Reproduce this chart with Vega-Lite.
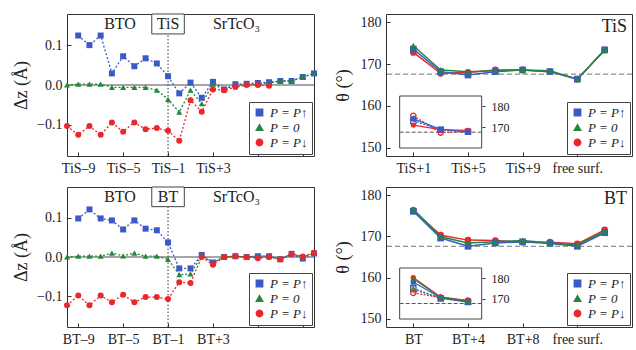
{
  "$schema": "https://vega.github.io/schema/vega-lite/v6.json",
  "background": "white",
  "padding": {"left": 12, "top": 13, "right": 0, "bottom": 0},
  "columns": 2,
  "bounds": "flush",
  "spacing": {"row": 31, "column": 72},
  "resolve": {"scale": {"color": "independent", "shape": "independent"}, "legend": {"color": "independent", "shape": "independent"}},
  "config": {
    "font": "Liberation Serif",
    "view": {"stroke": "#333", "strokeWidth": 1},
    "axis": {"grid": false, "domain": false, "tickColor": "#333", "tickSize": -4, "labelFont": "Liberation Serif", "labelFontSize": 14, "labelColor": "#222", "titleFont": "Liberation Serif", "titleFontSize": 18, "titleFontWeight": "normal", "titleColor": "#222", "labelPadding": 9, "labelOverlap": false},
    "legend": {"orient": "bottom-right", "offset": 2, "labelFont": "Liberation Serif", "labelFontSize": 13, "labelFontStyle": "italic", "labelColor": "#222", "symbolSize": 40, "strokeColor": "#444", "fillColor": "white", "padding": 4, "rowPadding": 1, "labelOffset": 4, "cornerRadius": 0},
    "text": {"font": "Liberation Serif"}
  },
  "datasets": {
    "one": [{}],
    "dzTiS": [
      {"x": -9, "P": "P = P↑", "v": 0.124}, {"x": -8, "P": "P = P↑", "v": 0.100}, {"x": -7, "P": "P = P↑", "v": 0.124}, {"x": -6, "P": "P = P↑", "v": 0.029}, {"x": -5, "P": "P = P↑", "v": 0.072}, {"x": -4, "P": "P = P↑", "v": 0.047}, {"x": -3, "P": "P = P↑", "v": 0.067}, {"x": -2, "P": "P = P↑", "v": 0.054}, {"x": -1, "P": "P = P↑", "v": 0.022}, {"x": 0, "P": "P = P↑", "v": -0.021}, {"x": 1, "P": "P = P↑", "v": 0.006}, {"x": 2, "P": "P = P↑", "v": -0.032}, {"x": 3, "P": "P = P↑", "v": 0.008}, {"x": 4, "P": "P = P↑", "v": -0.011}, {"x": 5, "P": "P = P↑", "v": 0.002}, {"x": 6, "P": "P = P↑", "v": 0.003}, {"x": 7, "P": "P = P↑", "v": 0.005}, {"x": 8, "P": "P = P↑", "v": 0.007}, {"x": 9, "P": "P = P↑", "v": 0.010}, {"x": 10, "P": "P = P↑", "v": 0.010}, {"x": 11, "P": "P = P↑", "v": 0.020}, {"x": 12, "P": "P = P↑", "v": 0.029},
      {"x": -10, "P": "P = 0", "v": 0}, {"x": -9, "P": "P = 0", "v": 0.002}, {"x": -8, "P": "P = 0", "v": 0.002}, {"x": -7, "P": "P = 0", "v": 0.002}, {"x": -6, "P": "P = 0", "v": -0.006}, {"x": -5, "P": "P = 0", "v": -0.006}, {"x": -4, "P": "P = 0", "v": -0.006}, {"x": -3, "P": "P = 0", "v": -0.006}, {"x": -2, "P": "P = 0", "v": -0.013}, {"x": -1, "P": "P = 0", "v": -0.036}, {"x": 0, "P": "P = 0", "v": -0.068}, {"x": 1, "P": "P = 0", "v": -0.013}, {"x": 2, "P": "P = 0", "v": -0.047}, {"x": 3, "P": "P = 0", "v": 0.002}, {"x": 4, "P": "P = 0", "v": -0.011}, {"x": 5, "P": "P = 0", "v": 0}, {"x": 6, "P": "P = 0", "v": 0.002}, {"x": 7, "P": "P = 0", "v": 0.003}, {"x": 8, "P": "P = 0", "v": 0.005}, {"x": 9, "P": "P = 0", "v": 0.010}, {"x": 10, "P": "P = 0", "v": 0.010}, {"x": 11, "P": "P = 0", "v": 0.020}, {"x": 12, "P": "P = 0", "v": 0.029},
      {"x": -10, "P": "P = P↓", "v": -0.103}, {"x": -9, "P": "P = P↓", "v": -0.125}, {"x": -8, "P": "P = P↓", "v": -0.103}, {"x": -7, "P": "P = P↓", "v": -0.125}, {"x": -6, "P": "P = P↓", "v": -0.094}, {"x": -5, "P": "P = P↓", "v": -0.117}, {"x": -4, "P": "P = P↓", "v": -0.094}, {"x": -3, "P": "P = P↓", "v": -0.111}, {"x": -2, "P": "P = P↓", "v": -0.108}, {"x": -1, "P": "P = P↓", "v": -0.115}, {"x": 0, "P": "P = P↓", "v": -0.140}, {"x": 1, "P": "P = P↓", "v": -0.038}, {"x": 2, "P": "P = P↓", "v": -0.067}, {"x": 3, "P": "P = P↓", "v": -0.011}, {"x": 4, "P": "P = P↓", "v": -0.013}, {"x": 5, "P": "P = P↓", "v": -0.005}, {"x": 6, "P": "P = P↓", "v": 0}, {"x": 7, "P": "P = P↓", "v": 0}, {"x": 8, "P": "P = P↓", "v": -0.002}
    ],
    "dzBT": [
      {"x": -9, "P": "P = P↑", "v": 0.098}, {"x": -8, "P": "P = P↑", "v": 0.121}, {"x": -7, "P": "P = P↑", "v": 0.098}, {"x": -6, "P": "P = P↑", "v": 0.093}, {"x": -5, "P": "P = P↑", "v": 0.070}, {"x": -4, "P": "P = P↑", "v": 0.093}, {"x": -3, "P": "P = P↑", "v": 0.072}, {"x": -2, "P": "P = P↑", "v": 0.068}, {"x": -1, "P": "P = P↑", "v": 0.037}, {"x": 0, "P": "P = P↑", "v": -0.029}, {"x": 1, "P": "P = P↑", "v": -0.029}, {"x": 2, "P": "P = P↑", "v": 0.005}, {"x": 3, "P": "P = P↑", "v": -0.014}, {"x": 4, "P": "P = P↑", "v": 0}, {"x": 5, "P": "P = P↑", "v": 0.002}, {"x": 6, "P": "P = P↑", "v": 0}, {"x": 7, "P": "P = P↑", "v": 0.002}, {"x": 8, "P": "P = P↑", "v": 0.002}, {"x": 9, "P": "P = P↑", "v": -0.006}, {"x": 10, "P": "P = P↑", "v": 0.008}, {"x": 11, "P": "P = P↑", "v": -0.004}, {"x": 12, "P": "P = P↑", "v": 0.009},
      {"x": -10, "P": "P = 0", "v": 0}, {"x": -9, "P": "P = 0", "v": 0.002}, {"x": -8, "P": "P = 0", "v": 0.002}, {"x": -7, "P": "P = 0", "v": 0.002}, {"x": -6, "P": "P = 0", "v": 0.010}, {"x": -5, "P": "P = 0", "v": 0.003}, {"x": -4, "P": "P = 0", "v": 0.010}, {"x": -3, "P": "P = 0", "v": 0.002}, {"x": -2, "P": "P = 0", "v": 0.002}, {"x": -1, "P": "P = 0", "v": -0.006}, {"x": 0, "P": "P = 0", "v": -0.045}, {"x": 1, "P": "P = 0", "v": -0.043}, {"x": 2, "P": "P = 0", "v": 0.003}, {"x": 3, "P": "P = 0", "v": -0.014}, {"x": 4, "P": "P = 0", "v": 0}, {"x": 5, "P": "P = 0", "v": 0.002}, {"x": 6, "P": "P = 0", "v": 0}, {"x": 7, "P": "P = 0", "v": 0.002}, {"x": 8, "P": "P = 0", "v": 0.002}, {"x": 9, "P": "P = 0", "v": -0.006}, {"x": 10, "P": "P = 0", "v": 0.008}, {"x": 11, "P": "P = 0", "v": 0.001}, {"x": 12, "P": "P = 0", "v": 0.009},
      {"x": -10, "P": "P = P↓", "v": -0.123}, {"x": -9, "P": "P = P↓", "v": -0.098}, {"x": -8, "P": "P = P↓", "v": -0.123}, {"x": -7, "P": "P = P↓", "v": -0.098}, {"x": -6, "P": "P = P↓", "v": -0.115}, {"x": -5, "P": "P = P↓", "v": -0.096}, {"x": -4, "P": "P = P↓", "v": -0.115}, {"x": -3, "P": "P = P↓", "v": -0.102}, {"x": -2, "P": "P = P↓", "v": -0.102}, {"x": -1, "P": "P = P↓", "v": -0.107}, {"x": 0, "P": "P = P↓", "v": -0.064}, {"x": 1, "P": "P = P↓", "v": -0.066}, {"x": 2, "P": "P = P↓", "v": 0}, {"x": 3, "P": "P = P↓", "v": -0.020}, {"x": 4, "P": "P = P↓", "v": 0}, {"x": 5, "P": "P = P↓", "v": 0.002}, {"x": 6, "P": "P = P↓", "v": 0}, {"x": 7, "P": "P = P↓", "v": -0.003}, {"x": 8, "P": "P = P↓", "v": 0}, {"x": 9, "P": "P = P↓", "v": -0.006}, {"x": 10, "P": "P = P↓", "v": 0.007}, {"x": 11, "P": "P = P↓", "v": 0.001}, {"x": 12, "P": "P = P↓", "v": 0.011}
    ],
    "thTiS": [
      {"x": 0, "P": "P = P↓", "v": 172.8}, {"x": 1, "P": "P = P↓", "v": 167.8}, {"x": 2, "P": "P = P↓", "v": 168.0}, {"x": 3, "P": "P = P↓", "v": 168.6}, {"x": 4, "P": "P = P↓", "v": 168.6}, {"x": 5, "P": "P = P↓", "v": 168.2}, {"x": 6, "P": "P = P↓", "v": 166.4}, {"x": 7, "P": "P = P↓", "v": 173.4},
      {"x": 0, "P": "P = P↑", "v": 173.6}, {"x": 1, "P": "P = P↑", "v": 168.2}, {"x": 2, "P": "P = P↑", "v": 167.4}, {"x": 3, "P": "P = P↑", "v": 168.2}, {"x": 4, "P": "P = P↑", "v": 168.6}, {"x": 5, "P": "P = P↑", "v": 168.2}, {"x": 6, "P": "P = P↑", "v": 166.4}, {"x": 7, "P": "P = P↑", "v": 173.4},
      {"x": 0, "P": "P = 0", "v": 174.4}, {"x": 1, "P": "P = 0", "v": 168.6}, {"x": 2, "P": "P = 0", "v": 168.2}, {"x": 3, "P": "P = 0", "v": 168.4}, {"x": 4, "P": "P = 0", "v": 168.6}, {"x": 5, "P": "P = 0", "v": 168.4}, {"x": 6, "P": "P = 0", "v": 166.4}, {"x": 7, "P": "P = 0", "v": 173.4}
    ],
    "thBT": [
      {"x": 0, "P": "P = P↓", "v": 176.3}, {"x": 1, "P": "P = P↓", "v": 170.3}, {"x": 2, "P": "P = P↓", "v": 169.1}, {"x": 3, "P": "P = P↓", "v": 169.0}, {"x": 4, "P": "P = P↓", "v": 168.6}, {"x": 5, "P": "P = P↓", "v": 168.6}, {"x": 6, "P": "P = P↓", "v": 168.2}, {"x": 7, "P": "P = P↓", "v": 171.6},
      {"x": 0, "P": "P = P↑", "v": 176.1}, {"x": 1, "P": "P = P↑", "v": 169.6}, {"x": 2, "P": "P = P↑", "v": 167.6}, {"x": 3, "P": "P = P↑", "v": 168.4}, {"x": 4, "P": "P = P↑", "v": 168.7}, {"x": 5, "P": "P = P↑", "v": 168.3}, {"x": 6, "P": "P = P↑", "v": 167.6}, {"x": 7, "P": "P = P↑", "v": 170.9},
      {"x": 0, "P": "P = 0", "v": 176.6}, {"x": 1, "P": "P = 0", "v": 169.9}, {"x": 2, "P": "P = 0", "v": 168.4}, {"x": 3, "P": "P = 0", "v": 168.7}, {"x": 4, "P": "P = 0", "v": 169.0}, {"x": 5, "P": "P = 0", "v": 168.4}, {"x": 6, "P": "P = 0", "v": 168.0}, {"x": 7, "P": "P = 0", "v": 171.2}
    ],
    "insTiS": [
      {"x": 0, "P": "P = P↓", "v": 171.0, "k": "a"}, {"x": 1, "P": "P = P↓", "v": 168.8, "k": "a"}, {"x": 2, "P": "P = P↓", "v": 168.5, "k": "a"},
      {"x": 0, "P": "P = P↑", "v": 174.0, "k": "a"}, {"x": 1, "P": "P = P↑", "v": 169.0, "k": "a"}, {"x": 2, "P": "P = P↑", "v": 167.6, "k": "a"},
      {"x": 0, "P": "P = P↑", "v": 173.0, "k": "b"}, {"x": 1, "P": "P = P↑", "v": 168.8, "k": "b"}, {"x": 2, "P": "P = P↑", "v": 167.8, "k": "b"},
      {"x": 0, "P": "P = P↓", "v": 175.5, "k": "b"}, {"x": 1, "P": "P = P↓", "v": 167.4, "k": "b"}, {"x": 2, "P": "P = P↓", "v": 168.0, "k": "b"}
    ],
    "insBT": [
      {"x": 0, "P": "P = P↓", "v": 180.3, "k": "a"}, {"x": 1, "P": "P = P↓", "v": 170.8, "k": "a"}, {"x": 2, "P": "P = P↓", "v": 169.0, "k": "a"},
      {"x": 0, "P": "P = P↑", "v": 178.1, "k": "a"}, {"x": 1, "P": "P = P↑", "v": 170.3, "k": "a"}, {"x": 2, "P": "P = P↑", "v": 168.2, "k": "a"},
      {"x": 0, "P": "P = 0", "v": 179.7, "k": "a"}, {"x": 1, "P": "P = 0", "v": 170.6, "k": "a"}, {"x": 2, "P": "P = 0", "v": 168.8, "k": "a"},
      {"x": 0, "P": "P = P↑", "v": 175.0, "k": "b"}, {"x": 1, "P": "P = P↑", "v": 170.2, "k": "b"}, {"x": 2, "P": "P = P↑", "v": 168.4, "k": "b"},
      {"x": 0, "P": "P = 0", "v": 174.6, "k": "b"}, {"x": 1, "P": "P = 0", "v": 170.0, "k": "b"}, {"x": 2, "P": "P = 0", "v": 168.6, "k": "b"},
      {"x": 0, "P": "P = P↓", "v": 172.8, "k": "b"}, {"x": 1, "P": "P = P↓", "v": 170.5, "k": "b"}, {"x": 2, "P": "P = P↓", "v": 169.0, "k": "b"}
    ]
  },
  "concat": [
    {
      "width": 247, "height": 142,
      "layer": [
        {"data": {"name": "one"}, "mark": {"type": "rule", "color": "#888", "strokeWidth": 1.5}, "encoding": {"y": {"datum": 0, "type": "quantitative"}}},
        {"data": {"name": "one"}, "mark": {"type": "rule", "color": "#333", "strokeWidth": 1, "strokeDash": [1.5, 2]}, "encoding": {"x": {"datum": -1, "type": "quantitative"}, "y": {"datum": -0.178, "type": "quantitative"}, "y2": {"datum": 0.128}}},
        {"data": {"name": "dzTiS"}, "mark": {"type": "line", "strokeWidth": 1.3, "strokeDash": [2, 2]},
          "encoding": {
            "x": {"field": "x", "type": "quantitative", "scale": {"domain": [-10, 12], "nice": false, "zero": false}, "axis": {"title": null, "labelPadding": 9, "values": [-9, -7, -5, -3, -1, 1, 3, 5, 7, 9, 11], "labelExpr": "datum.value == -9 ? 'TiS–9' : datum.value == -5 ? 'TiS–5' : datum.value == -1 ? 'TiS–1' : datum.value == 3 ? 'TiS+3' : ''"}},
            "y": {"field": "v", "type": "quantitative", "scale": {"domain": [-0.178, 0.178], "nice": false, "zero": false}, "axis": {"title": "Δz (Å)", "values": [-0.1, 0, 0.1], "format": ".1f", "titlePadding": 6}},
            "color": {"field": "P", "type": "nominal", "scale": {"domain": ["P = P↑", "P = 0", "P = P↓"], "range": ["#3a5bc7", "#23883b", "#e8282b"]}},
            "detail": {"field": "P"}
          }},
        {"data": {"name": "dzTiS"}, "mark": {"type": "point", "filled": true, "size": 36, "opacity": 1},
          "encoding": {
            "x": {"field": "x", "type": "quantitative"},
            "y": {"field": "v", "type": "quantitative"},
            "color": {"field": "P", "type": "nominal", "scale": {"domain": ["P = P↑", "P = 0", "P = P↓"], "range": ["#3a5bc7", "#23883b", "#e8282b"]}, "legend": {"title": null}},
            "shape": {"field": "P", "type": "nominal", "scale": {"domain": ["P = P↑", "P = 0", "P = P↓"], "range": ["square", "triangle-up", "circle"]}, "legend": {"title": null}}
          }},
        {"data": {"values": [{"bx": -2.45, "bx2": 0.45, "by": 0.178, "by2": 0.128}]}, "mark": {"type": "rect", "fill": "white", "stroke": "#444", "strokeWidth": 1},
          "encoding": {"x": {"field": "bx", "type": "quantitative"}, "x2": {"field": "bx2"}, "y": {"field": "by", "type": "quantitative"}, "y2": {"field": "by2"}}},
        {"data": {"values": [{"tx": -5.28, "ty": 0.152, "t": "BTO"}, {"tx": 5.1, "ty": 0.152, "t": "SrTcO₃"}, {"tx": -1, "ty": 0.152, "t": "TiS"}]}, "mark": {"type": "text", "fontSize": 16, "color": "#222", "baseline": "middle", "align": "center"},
          "encoding": {"x": {"field": "tx", "type": "quantitative"}, "y": {"field": "ty", "type": "quantitative"}, "text": {"field": "t"}}}
      ]
    },
    {
      "width": 246, "height": 142,
      "resolve": {"scale": {"y": "independent"}, "axis": {"y": "independent"}},
      "layer": [
        {"layer": [
          {"data": {"name": "one"}, "mark": {"type": "rule", "color": "#777", "strokeWidth": 1, "strokeDash": [5, 3]}, "encoding": {"y": {"datum": 167.6, "type": "quantitative"}}},
          {"data": {"name": "thTiS"}, "mark": {"type": "line", "strokeWidth": 1.5},
            "encoding": {
              "x": {"field": "x", "type": "quantitative", "scale": {"domain": [-1, 8], "nice": false, "zero": false}, "axis": {"title": null, "labelPadding": 9, "values": [0, 1, 2, 3, 4, 5, 6, 7], "labelExpr": "datum.value == 0 ? 'TiS+1' : datum.value == 2 ? 'TiS+5' : datum.value == 4 ? 'TiS+9' : datum.value == 6 ? 'free surf.' : ''"}},
              "y": {"field": "v", "type": "quantitative", "scale": {"domain": [148, 182], "nice": false, "zero": false}, "axis": {"title": "θ (°)", "orient": "left", "values": [150, 155, 160, 165, 170, 175, 180], "labelExpr": "datum.value % 10 == 0 ? datum.label : ''", "titlePadding": 8}},
              "color": {"field": "P", "type": "nominal", "scale": {"domain": ["P = P↑", "P = 0", "P = P↓"], "range": ["#3a5bc7", "#23883b", "#e8282b"]}},
              "detail": {"field": "P"}
            }},
          {"data": {"name": "thTiS"}, "mark": {"type": "point", "filled": true, "size": 45, "opacity": 1},
            "encoding": {
              "x": {"field": "x", "type": "quantitative"},
              "y": {"field": "v", "type": "quantitative"},
              "color": {"field": "P", "type": "nominal", "scale": {"domain": ["P = P↑", "P = 0", "P = P↓"], "range": ["#3a5bc7", "#23883b", "#e8282b"]}, "legend": {"title": null}},
              "shape": {"field": "P", "type": "nominal", "scale": {"domain": ["P = P↑", "P = 0", "P = P↓"], "range": ["square", "triangle-up", "circle"]}, "legend": {"title": null}}
            }},
          {"data": {"values": [{"tx": 7.82, "ty": 179.0, "t": "TiS"}]}, "mark": {"type": "text", "fontSize": 18, "color": "#222", "baseline": "middle", "align": "right"},
            "encoding": {"x": {"field": "tx", "type": "quantitative"}, "y": {"field": "ty", "type": "quantitative"}, "text": {"field": "t"}}}
        ]},
        {"layer": [
          {"data": {"values": [{"bx": -0.5, "bx2": 2.5, "by": 160, "by2": 185}]}, "mark": {"type": "rect", "fill": "white", "stroke": "#444", "strokeWidth": 1},
            "encoding": {"x": {"field": "bx", "type": "quantitative"}, "x2": {"field": "bx2"},
              "y": {"field": "by", "type": "quantitative", "scale": {"domain": [160, 185], "range": [134, 82], "nice": false, "zero": false}, "axis": {"title": null, "orient": "right", "offset": -150, "values": [170, 180], "labelFontSize": 12, "labelPadding": 6, "tickSize": 3}},
              "y2": {"field": "by2"}}},
          {"data": {"name": "one"}, "mark": {"type": "rule", "color": "#555", "strokeWidth": 1, "strokeDash": [4, 2]}, "encoding": {"x": {"datum": -0.5, "type": "quantitative"}, "x2": {"datum": 2.5}, "y": {"datum": 167.6, "type": "quantitative"}}},
          {"data": {"name": "insTiS"}, "transform": [{"filter": "datum.k == 'b'"}], "mark": {"type": "line", "strokeWidth": 1.2, "strokeDash": [2, 1.5]},
            "encoding": {"x": {"field": "x", "type": "quantitative"}, "y": {"field": "v", "type": "quantitative"}, "color": {"field": "P", "type": "nominal"}, "detail": {"field": "P"}}},
          {"data": {"name": "insTiS"}, "transform": [{"filter": "datum.k == 'a'"}], "mark": {"type": "line", "strokeWidth": 1.2},
            "encoding": {"x": {"field": "x", "type": "quantitative"}, "y": {"field": "v", "type": "quantitative"}, "color": {"field": "P", "type": "nominal"}, "detail": {"field": "P"}}},
          {"data": {"name": "insTiS"}, "transform": [{"filter": "datum.k == 'b'"}], "mark": {"type": "point", "filled": false, "size": 28, "strokeWidth": 1.3, "opacity": 1},
            "encoding": {"x": {"field": "x", "type": "quantitative"}, "y": {"field": "v", "type": "quantitative"}, "color": {"field": "P", "type": "nominal"}, "shape": {"field": "P", "type": "nominal"}}},
          {"data": {"name": "insTiS"}, "transform": [{"filter": "datum.k == 'a'"}], "mark": {"type": "point", "filled": true, "size": 28, "opacity": 1},
            "encoding": {"x": {"field": "x", "type": "quantitative"}, "y": {"field": "v", "type": "quantitative"}, "color": {"field": "P", "type": "nominal"}, "shape": {"field": "P", "type": "nominal"}}}
        ]}
      ]
    },
    {
      "width": 247, "height": 140,
      "layer": [
        {"data": {"name": "one"}, "mark": {"type": "rule", "color": "#888", "strokeWidth": 1.5}, "encoding": {"y": {"datum": 0, "type": "quantitative"}}},
        {"data": {"name": "one"}, "mark": {"type": "rule", "color": "#333", "strokeWidth": 1, "strokeDash": [1.5, 2]}, "encoding": {"x": {"datum": -1, "type": "quantitative"}, "y": {"datum": -0.178, "type": "quantitative"}, "y2": {"datum": 0.128}}},
        {"data": {"name": "dzBT"}, "mark": {"type": "line", "strokeWidth": 1.3, "strokeDash": [2, 2]},
          "encoding": {
            "x": {"field": "x", "type": "quantitative", "scale": {"domain": [-10, 12], "nice": false, "zero": false}, "axis": {"title": null, "labelPadding": 9, "values": [-9, -7, -5, -3, -1, 1, 3, 5, 7, 9, 11], "labelExpr": "datum.value == -9 ? 'BT–9' : datum.value == -5 ? 'BT–5' : datum.value == -1 ? 'BT–1' : datum.value == 3 ? 'BT+3' : ''"}},
            "y": {"field": "v", "type": "quantitative", "scale": {"domain": [-0.178, 0.178], "nice": false, "zero": false}, "axis": {"title": "Δz (Å)", "values": [-0.1, 0, 0.1], "format": ".1f", "titlePadding": 6}},
            "color": {"field": "P", "type": "nominal", "scale": {"domain": ["P = P↑", "P = 0", "P = P↓"], "range": ["#3a5bc7", "#23883b", "#e8282b"]}},
            "detail": {"field": "P"}
          }},
        {"data": {"name": "dzBT"}, "mark": {"type": "point", "filled": true, "size": 36, "opacity": 1},
          "encoding": {
            "x": {"field": "x", "type": "quantitative"},
            "y": {"field": "v", "type": "quantitative"},
            "color": {"field": "P", "type": "nominal", "scale": {"domain": ["P = P↑", "P = 0", "P = P↓"], "range": ["#3a5bc7", "#23883b", "#e8282b"]}, "legend": {"title": null}},
            "shape": {"field": "P", "type": "nominal", "scale": {"domain": ["P = P↑", "P = 0", "P = P↓"], "range": ["square", "triangle-up", "circle"]}, "legend": {"title": null}}
          }},
        {"data": {"values": [{"bx": -2.45, "bx2": 0.45, "by": 0.178, "by2": 0.128}]}, "mark": {"type": "rect", "fill": "white", "stroke": "#444", "strokeWidth": 1},
          "encoding": {"x": {"field": "bx", "type": "quantitative"}, "x2": {"field": "bx2"}, "y": {"field": "by", "type": "quantitative"}, "y2": {"field": "by2"}}},
        {"data": {"values": [{"tx": -5.28, "ty": 0.152, "t": "BTO"}, {"tx": 5.1, "ty": 0.152, "t": "SrTcO₃"}, {"tx": -1, "ty": 0.152, "t": "BT"}]}, "mark": {"type": "text", "fontSize": 16, "color": "#222", "baseline": "middle", "align": "center"},
          "encoding": {"x": {"field": "tx", "type": "quantitative"}, "y": {"field": "ty", "type": "quantitative"}, "text": {"field": "t"}}}
      ]
    },
    {
      "width": 246, "height": 140,
      "resolve": {"scale": {"y": "independent"}, "axis": {"y": "independent"}},
      "layer": [
        {"layer": [
          {"data": {"name": "one"}, "mark": {"type": "rule", "color": "#777", "strokeWidth": 1, "strokeDash": [5, 3]}, "encoding": {"y": {"datum": 167.6, "type": "quantitative"}}},
          {"data": {"name": "thBT"}, "mark": {"type": "line", "strokeWidth": 1.5},
            "encoding": {
              "x": {"field": "x", "type": "quantitative", "scale": {"domain": [-1, 8], "nice": false, "zero": false}, "axis": {"title": null, "labelPadding": 9, "values": [0, 1, 2, 3, 4, 5, 6, 7], "labelExpr": "datum.value == 0 ? 'BT' : datum.value == 2 ? 'BT+4' : datum.value == 4 ? 'BT+8' : datum.value == 6 ? 'free surf.' : ''"}},
              "y": {"field": "v", "type": "quantitative", "scale": {"domain": [148, 182], "nice": false, "zero": false}, "axis": {"title": "θ (°)", "orient": "left", "values": [150, 155, 160, 165, 170, 175, 180], "labelExpr": "datum.value % 10 == 0 ? datum.label : ''", "titlePadding": 8}},
              "color": {"field": "P", "type": "nominal", "scale": {"domain": ["P = P↑", "P = 0", "P = P↓"], "range": ["#3a5bc7", "#23883b", "#e8282b"]}},
              "detail": {"field": "P"}
            }},
          {"data": {"name": "thBT"}, "mark": {"type": "point", "filled": true, "size": 45, "opacity": 1},
            "encoding": {
              "x": {"field": "x", "type": "quantitative"},
              "y": {"field": "v", "type": "quantitative"},
              "color": {"field": "P", "type": "nominal", "scale": {"domain": ["P = P↑", "P = 0", "P = P↓"], "range": ["#3a5bc7", "#23883b", "#e8282b"]}, "legend": {"title": null}},
              "shape": {"field": "P", "type": "nominal", "scale": {"domain": ["P = P↑", "P = 0", "P = P↓"], "range": ["square", "triangle-up", "circle"]}, "legend": {"title": null}}
            }},
          {"data": {"values": [{"tx": 7.82, "ty": 179.0, "t": "BT"}]}, "mark": {"type": "text", "fontSize": 18, "color": "#222", "baseline": "middle", "align": "right"},
            "encoding": {"x": {"field": "tx", "type": "quantitative"}, "y": {"field": "ty", "type": "quantitative"}, "text": {"field": "t"}}}
        ]},
        {"layer": [
          {"data": {"values": [{"bx": -0.5, "bx2": 2.5, "by": 160, "by2": 185}]}, "mark": {"type": "rect", "fill": "white", "stroke": "#444", "strokeWidth": 1},
            "encoding": {"x": {"field": "bx", "type": "quantitative"}, "x2": {"field": "bx2"},
              "y": {"field": "by", "type": "quantitative", "scale": {"domain": [160, 185], "range": [132, 81], "nice": false, "zero": false}, "axis": {"title": null, "orient": "right", "offset": -150, "values": [170, 180], "labelFontSize": 12, "labelPadding": 6, "tickSize": 3}},
              "y2": {"field": "by2"}}},
          {"data": {"name": "one"}, "mark": {"type": "rule", "color": "#555", "strokeWidth": 1, "strokeDash": [4, 2]}, "encoding": {"x": {"datum": -0.5, "type": "quantitative"}, "x2": {"datum": 2.5}, "y": {"datum": 167.6, "type": "quantitative"}}},
          {"data": {"name": "insBT"}, "transform": [{"filter": "datum.k == 'b'"}], "mark": {"type": "line", "strokeWidth": 1.2, "strokeDash": [2, 1.5]},
            "encoding": {"x": {"field": "x", "type": "quantitative"}, "y": {"field": "v", "type": "quantitative"}, "color": {"field": "P", "type": "nominal"}, "detail": {"field": "P"}}},
          {"data": {"name": "insBT"}, "transform": [{"filter": "datum.k == 'a'"}], "mark": {"type": "line", "strokeWidth": 1.2},
            "encoding": {"x": {"field": "x", "type": "quantitative"}, "y": {"field": "v", "type": "quantitative"}, "color": {"field": "P", "type": "nominal"}, "detail": {"field": "P"}}},
          {"data": {"name": "insBT"}, "transform": [{"filter": "datum.k == 'b'"}], "mark": {"type": "point", "filled": false, "size": 28, "strokeWidth": 1.3, "opacity": 1},
            "encoding": {"x": {"field": "x", "type": "quantitative"}, "y": {"field": "v", "type": "quantitative"}, "color": {"field": "P", "type": "nominal"}, "shape": {"field": "P", "type": "nominal"}}},
          {"data": {"name": "insBT"}, "transform": [{"filter": "datum.k == 'a'"}], "mark": {"type": "point", "filled": true, "size": 28, "opacity": 1},
            "encoding": {"x": {"field": "x", "type": "quantitative"}, "y": {"field": "v", "type": "quantitative"}, "color": {"field": "P", "type": "nominal"}, "shape": {"field": "P", "type": "nominal"}}}
        ]}
      ]
    }
  ]
}
